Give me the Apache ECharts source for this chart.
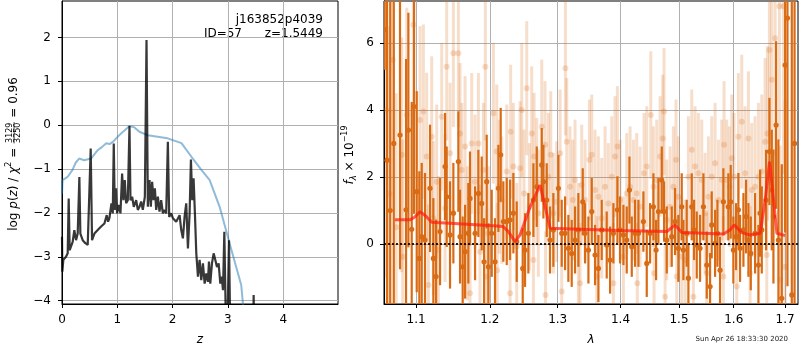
<!DOCTYPE html>
<html>
<head>
<meta charset="utf-8">
<script src="https://cdn.jsdelivr.net/npm/echarts@6/dist/echarts.min.js"></script>
<style>
html, body { margin: 0; padding: 0; background: #fff; }
#chart { width: 800px; height: 350px; }
</style>
</head>
<body>
<div id="chart"></div>
<script>
// ---- left panel: redshift probability ----
var pzZ = [0.000,0.006,0.024,0.072,0.103,0.121,0.139,0.193,0.223,0.254,
    0.284,0.314,0.332,0.374,0.423,0.465,0.495,0.519,0.543,0.586,
    0.646,0.707,0.767,0.809,0.833,0.857,0.894,0.918,0.936,0.954,
    0.978,0.996,1.027,1.057,1.087,1.111,1.135,1.159,1.190,1.220,
    1.238,1.268,1.298,1.341,1.371,1.401,1.431,1.461,1.498,1.528,
    1.552,1.582,1.606,1.630,1.655,1.679,1.703,1.733,1.763,1.793,
    1.824,1.854,1.884,1.914,1.938,1.975,2.005,2.035,2.065,2.095,
    2.126,2.156,2.186,2.216,2.246,2.277,2.307,2.331,2.355,2.379,
    2.403,2.428,2.458,2.488,2.518,2.548,2.579,2.609,2.639,2.657,
    2.681,2.711,2.742,2.772,2.802,2.832,2.862,2.886,2.911,2.935,
    2.959,2.989,3.019,3.043,3.092,3.200,3.440,3.465,3.490,3.700,
    4.000,5.000];
var pzLog = [-2.54,-3.34,-3.07,-3.00,-2.92,-1.67,-2.85,-2.66,-2.39,-2.62,
    -2.47,-1.18,-2.47,-2.62,-2.69,-2.73,-2.69,-0.53,-2.62,-2.47,
    -2.39,-2.31,-2.24,-2.05,-2.20,-2.12,-1.78,-2.01,-0.42,-1.93,
    -1.44,-2.01,-1.82,-2.01,-1.10,-1.71,-1.25,-1.78,-1.71,-0.02,
    -1.71,-1.63,-1.86,-1.71,-1.93,-1.86,-1.74,-1.93,-1.63,1.94,
    -1.86,-1.25,-1.86,-1.29,-1.71,-1.44,-1.93,-1.63,-1.97,-1.71,
    -2.01,-1.93,-2.01,-0.38,-2.09,-2.01,-2.12,-2.09,-2.20,-2.20,
    -2.05,-2.39,-2.58,-2.09,-1.78,-2.81,-2.01,-0.78,-1.71,-1.21,
    -2.01,-2.92,-3.45,-3.07,-3.53,-3.15,-3.61,-3.38,-3.57,-3.11,
    -3.61,-3.15,-2.92,-3.07,-3.23,-3.15,-3.61,-3.45,-3.76,-2.43,
    -4.21,-4.74,-2.62,-4.74,-5.50,-6.50,-6.80,-3.87,-6.90,-8.00,
    -9.00,-10.0];
var chiZ = [0,0.01,0.10,0.19,0.25,0.31,0.40,0.525,0.645,0.72,0.80,0.86,0.92,1.01,1.12,
    1.22,1.31,1.40,1.55,1.91,2.16,2.34,2.52,2.67,2.85,3.03,3.24,3.27,3.30];
var chiLog = [-1.56,-1.25,-1.18,-1.02,-0.85,-0.76,-0.80,-0.76,-0.57,-0.50,-0.41,-0.43,-0.38,-0.26,-0.13,
    -0.02,-0.05,-0.15,-0.23,-0.30,-0.41,-0.72,-1.02,-1.25,-1.86,-2.69,-3.64,-4.05,-4.60];
var zTicks = [0, 1, 2, 3, 4];
var pzTicks = [-4, -3, -2, -1, 0, 1, 2];

// ---- right panel: spectrum [wavelength, flux, error] ----
var darkSpec = [
    [1.0600,6.40,1.2],[1.0630,2.50,12],[1.0670,1.00,12],[1.0715,3.00,10],
    [1.0794,3.25,4.0],[1.0871,1.02,4.5],[1.0901,3.40,3.5],[1.0944,0.44,3.8],[1.0974,4.10,3.2],
    [1.1009,1.56,3.0],[1.1043,-0.43,2.6],[1.1074,0.22,2.2],[1.1117,0.12,2.0],[1.1183,1.66,1.9],
    [1.1227,-0.43,1.8],[1.1263,-0.97,1.7],[1.1316,0.37,1.6],[1.1383,2.31,1.6],[1.1405,1.41,1.5],
    [1.1450,0.27,1.6],[1.1495,0.92,1.5],[1.1563,2.46,1.5],[1.1586,0.22,1.4],[1.1622,-0.68,1.5],
    [1.1655,-0.23,1.4],[1.1700,0.32,1.5],[1.1723,1.36,1.4],[1.1793,0.32,1.4],[1.1839,1.51,1.3],
    [1.1886,1.21,1.4],[1.1919,-0.53,1.3],[1.1956,1.86,1.4],[1.1980,-0.68,1.3],[1.2027,0.32,1.3],
    [1.2074,-0.53,1.3],[1.2122,1.66,1.3],[1.2155,2.66,1.4],[1.2193,0.67,1.2],[1.2242,0.67,1.3],
    [1.2290,0.72,1.2],[1.2338,0.92,1.2],[1.2387,0.07,1.2],[1.2475,-0.73,1.2],[1.2509,-0.18,1.1],
    [1.2558,0.32,1.2],[1.2633,1.31,1.1],[1.2683,1.71,1.2],[1.2758,2.36,1.1],[1.2783,1.86,1.1],
    [1.2833,1.31,1.1],[1.2883,0.12,1.0],[1.2934,0.42,1.1],[1.3011,1.66,1.0],[1.3062,0.32,1.0],
    [1.3114,0.32,1.1],[1.3165,-0.13,1.0],[1.3217,-0.28,1.0],[1.3269,0.12,1.0],[1.3321,0.42,1.1],
    [1.3390,1.26,1.0],[1.3427,0.32,0.9],[1.3480,-0.18,1.0],[1.3533,0.97,1.0],[1.3586,-0.33,0.9],
    [1.3640,-0.73,1.0],[1.3693,0.42,0.9],[1.3774,-0.03,1.0],[1.3829,-0.48,1.0],[1.3883,0.32,0.9],
    [1.3949,1.02,1.0],[1.3993,0.42,1.0],[1.4048,0.27,0.9],[1.4103,0.12,1.0],[1.4148,1.61,1.0],
    [1.4187,-0.08,0.9],[1.4242,0.32,1.0],[1.4299,0.32,1.0],[1.4383,0.67,0.9],[1.4440,-0.58,1.0],
    [1.4497,0.32,0.9],[1.4554,1.11,1.0],[1.4600,-0.18,0.9],[1.4640,0.97,1.0],[1.4698,1.91,1.0],
    [1.4738,0.97,0.9],[1.4785,0.12,1.0],[1.4872,0.22,0.9],[1.4930,0.67,1.0],[1.4989,-0.13,1.0],
    [1.5048,1.11,1.0],[1.5078,-0.18,0.9],[1.5137,0.32,1.0],[1.5167,-1.02,1.0],[1.5227,1.11,1.0],
    [1.5269,0.42,0.9],[1.5317,-0.03,1.0],[1.5377,-0.13,1.0],[1.5438,1.11,1.0],[1.5499,-0.63,1.0],
    [1.5560,-1.27,1.0],[1.5590,0.57,1.0],[1.5652,0.02,1.0],[1.5695,0.32,1.0],[1.5744,-0.78,1.0],
    [1.5806,1.26,1.0],[1.5899,1.11,1.0],[1.5943,1.26,1.1],[1.5993,-0.18,1.0],[1.6044,0.22,1.0],
    [1.6088,1.02,1.1],[1.6120,-0.13,1.0],[1.6184,0.42,1.1],[1.6235,0.82,1.1],[1.6280,0.12,1.1],
    [1.6325,-0.28,1.1],[1.6408,0.32,1.2],[1.6473,-0.63,1.2],[1.6505,0.92,1.3],[1.6538,0.42,1.3],
    [1.6623,1.31,1.5],[1.6688,2.76,1.6],[1.6734,1.61,1.8],[1.6767,0.82,2.0],[1.6820,3.55,2.5],
    [1.6866,0.12,3.0],[1.6933,-1.62,4.0],[1.7000,5.34,5.0],[1.7047,6.74,8.0],[1.7134,-1.52,9.0],
    [1.7190,3.00,12]
];
var lightSpec = [
    [1.0620,4.00,5.0],[1.0660,1.50,5.0],[1.0700,5.50,4.5],[1.0745,0.50,4.0],[1.0816,2.66,3.5],
    [1.0828,-0.38,3.5],[1.0880,3.85,3.2],[1.0965,6.54,3.0],[1.1052,3.70,2.8],[1.1096,3.95,2.6],
    [1.1139,2.61,2.5],[1.1161,-1.22,2.4],[1.1205,3.20,2.4],[1.1227,0.77,2.3],[1.1271,1.86,2.3],
    [1.1294,-0.18,2.2],[1.1338,3.80,2.2],[1.1383,1.07,2.2],[1.1405,5.29,2.2],[1.1450,2.71,2.1],
    [1.1495,5.69,2.2],[1.1563,5.69,2.2],[1.1586,3.30,2.1],[1.1609,2.21,2.0],[1.1655,2.91,2.1],
    [1.1687,0.32,2.0],[1.1723,-1.47,2.0],[1.1746,3.00,2.1],[1.1793,1.86,2.0],[1.1839,3.00,2.1],
    [1.1862,-0.23,2.0],[1.1909,2.21,2.0],[1.1937,5.29,2.2],[1.1956,-0.97,2.0],[1.1980,0.32,2.0],
    [1.2051,3.90,2.1],[1.2098,2.76,2.0],[1.2105,-0.78,2.0],[1.2136,1.71,2.0],[1.2170,1.31,1.9],
    [1.2242,2.16,2.0],[1.2290,-1.47,1.9],[1.2299,3.35,2.0],[1.2338,2.31,1.9],[1.2387,-0.08,1.9],
    [1.2436,2.26,2.0],[1.2460,4.00,2.0],[1.2494,1.51,1.9],[1.2534,4.65,2.0],[1.2573,1.11,1.9],
    [1.2608,3.30,2.0],[1.2633,-0.48,1.9],[1.2643,2.61,1.9],[1.2683,1.86,1.9],[1.2707,0.92,1.9],
    [1.2758,3.50,2.0],[1.2808,2.96,1.9],[1.2815,-1.52,1.9],[1.2858,2.01,1.9],[1.2894,2.66,1.9],
    [1.2934,0.92,1.8],[1.2985,1.26,1.8],[1.3037,2.71,1.9],[1.3062,-1.42,1.8],[1.3119,5.24,2.0],
    [1.3140,3.05,1.9],[1.3191,1.71,1.8],[1.3233,1.31,1.8],[1.3269,1.91,1.8],[1.3321,0.02,1.8],
    [1.3348,-1.17,1.8],[1.3374,1.76,1.8],[1.3427,1.31,1.8],[1.3496,2.51,1.8],[1.3533,2.66,1.8],
    [1.3586,1.61,1.8],[1.3613,-0.97,1.8],[1.3640,1.41,1.8],[1.3693,0.77,1.8],[1.3747,1.71,1.8],
    [1.3801,1.21,1.8],[1.3856,2.01,1.8],[1.3883,-1.17,1.8],[1.3910,2.61,1.8],[1.3949,2.91,1.8],
    [1.3993,1.31,1.8],[1.4048,-0.38,1.8],[1.4103,1.51,1.8],[1.4159,1.71,1.8],[1.4215,1.31,1.8],
    [1.4270,1.51,1.8],[1.4280,-1.17,1.8],[1.4327,1.11,1.8],[1.4394,2.11,1.8],[1.4440,2.31,1.8],
    [1.4509,3.85,1.9],[1.4554,1.71,1.8],[1.4565,-0.87,1.8],[1.4611,1.91,1.8],[1.4669,2.61,1.8],
    [1.4715,3.15,1.9],[1.4738,3.95,1.9],[1.4756,-1.57,1.8],[1.4785,0.72,1.8],[1.4843,1.11,1.8],
    [1.4901,1.71,1.8],[1.4948,2.51,1.8],[1.4960,-0.97,1.8],[1.4989,1.41,1.8],[1.5048,-0.38,1.8],
    [1.5108,-0.48,1.8],[1.5167,2.01,1.8],[1.5227,2.81,1.8],[1.5257,-1.57,1.8],[1.5287,2.31,1.8],
    [1.5347,2.11,1.8],[1.5408,1.91,1.8],[1.5469,0.92,1.8],[1.5499,-0.87,1.8],[1.5529,1.41,1.8],
    [1.5590,2.01,1.8],[1.5652,2.41,1.8],[1.5714,1.31,1.8],[1.5775,1.91,1.8],[1.5806,-0.97,1.8],
    [1.5819,2.96,1.9],[1.5868,1.91,1.8],[1.5918,1.71,1.8],[1.5962,2.56,1.9],[1.6006,2.01,1.9],
    [1.6057,-1.27,1.9],[1.6088,3.20,1.9],[1.6152,3.65,2.0],[1.6216,2.11,2.0],[1.6280,3.15,2.0],
    [1.6312,-0.87,2.0],[1.6344,1.61,2.0],[1.6408,1.71,2.1],[1.6473,2.01,2.2],[1.6538,2.16,2.3],
    [1.6603,3.05,2.5],[1.6636,-0.33,2.5],[1.6649,3.30,2.6],[1.6688,5.79,2.8],[1.6734,4.90,3.0],
    [1.6800,6.14,3.5],[1.6886,7.09,4.0],[1.6899,-1.07,4.0],[1.6966,7.09,5.0],[1.7000,-0.68,5.0]
];
var modelWave = [1.073,1.092,1.098,1.105,1.112,1.1206,1.163,1.2099,1.219,1.2266,1.2363,1.2436,1.2584,
    1.2733,1.281,1.2884,1.3349,1.400,1.4786,1.4931,1.505,1.5808,1.593,1.6008,1.6154,1.6313,
    1.6507,1.6604,1.669,1.6769,1.6836,1.700];
var modelFlux = [0.72,0.72,0.80,0.96,0.85,0.65,0.60,0.54,0.52,0.37,0.07,0.27,1.11,
    1.76,1.10,0.47,0.44,0.40,0.37,0.57,0.34,0.30,0.42,0.57,0.34,0.27,
    0.32,1.31,2.46,1.31,0.32,0.25];
var waveTicks = [1.1, 1.2, 1.3, 1.4, 1.5, 1.6, 1.7];
var fluxTicks = [0, 2, 4, 6];

var FONT = '"DejaVu Sans", sans-serif';
var ORANGE = '#d96b14';

function minus(v) { return v < 0 ? '\u2212' + Math.abs(v) : String(v); }
function zip(a, b) { return a.map(function (v, i) { return [v, b[i]]; }); }
// log wavelength axis: x is stored as ln(lambda)
function logSpec(list) { return list.map(function (p) { return [Math.log(p[0]), p[1], p[2]]; }); }

function errBars(color, barWidth, radius, opacity) {
    return function (params, api) {
        var x = api.value(0), y = api.value(1), e = api.value(2);
        var lo = api.coord([x, y - e]), hi = api.coord([x, y + e]), c = api.coord([x, y]);
        return {
            type: 'group',
            children: [
                { type: 'line', shape: { x1: lo[0], y1: lo[1], x2: hi[0], y2: hi[1] },
                  style: { stroke: color, lineWidth: barWidth, opacity: opacity } },
                { type: 'circle', shape: { cx: c[0], cy: c[1], r: radius },
                  style: { fill: color, opacity: opacity } }
            ]
        };
    };
}

var measureCtx = document.createElement('canvas').getContext('2d');
function textWidth(str, font) { measureCtx.font = font; return measureCtx.measureText(str).width; }

// rotated math-style label built from pieces
function mathLabel(parts, cx, cy) {
    var total = 0;
    parts.forEach(function (p) {
        p.w = p.num ? Math.max(textWidth(p.num, p.font), textWidth(p.den, p.font)) + 2 : textWidth(p.text, p.font);
        total += p.w;
    });
    var x = -total / 2, kids = [];
    parts.forEach(function (p) {
        if (p.num) {
            kids.push({ type: 'text', style: { text: p.num, x: x + p.w / 2, y: -3.6, font: p.font, fill: '#000',
                align: 'center', textAlign: 'center', verticalAlign: 'middle', textVerticalAlign: 'middle' } });
            kids.push({ type: 'text', style: { text: p.den, x: x + p.w / 2, y: 4.6, font: p.font, fill: '#000',
                align: 'center', textAlign: 'center', verticalAlign: 'middle', textVerticalAlign: 'middle' } });
            kids.push({ type: 'line', shape: { x1: x + 0.5, y1: 0.6, x2: x + p.w - 0.5, y2: 0.6 },
                style: { stroke: '#000', lineWidth: 0.7 } });
        } else {
            kids.push({ type: 'text', style: { text: p.text, x: x, y: p.dy || 0, font: p.font, fill: '#000',
                align: 'left', textAlign: 'left', verticalAlign: 'middle', textVerticalAlign: 'middle' } });
        }
        x += p.w;
    });
    return { type: 'group', x: cx, y: cy, rotation: Math.PI / 2, children: kids };
}

var fN = '12px ' + FONT, fI = 'italic 12px ' + FONT, fS = '8px ' + FONT, fSI = 'italic 8.5px ' + FONT;

var leftLabel = mathLabel([
    { text: 'log ', font: fN }, { text: 'p', font: fI }, { text: '(', font: fN }, { text: 'z', font: fI },
    { text: ') / ', font: fN }, { text: '\u03c7', font: fI }, { text: '2', font: fS, dy: -5 },
    { text: ' = ', font: fN }, { num: '3129', den: '3250', font: fS }, { text: ' = 0.96', font: fN }
], 13.5, 154);
var rightLabel = mathLabel([
    { text: 'f', font: fI }, { text: '\u03bb', font: fSI, dy: 3.5 }, { text: ' \u00d7 10', font: fN },
    { text: '\u221219', font: fS, dy: -5 }
], 350, 155);

var axisCommon = {
    axisLine: { show: true, onZero: false, lineStyle: { color: '#000', width: 1 } },
    axisTick: { show: true, length: 4, lineStyle: { color: '#000', width: 1 } },
    axisLabel: { color: '#000', fontSize: 12, fontFamily: FONT, margin: 10 },
    splitLine: { show: true, lineStyle: { color: '#b0b0b0', width: 1 } }
};
function axis(extra) {
    var a = JSON.parse(JSON.stringify(axisCommon));
    for (var k in extra) {
        if (typeof extra[k] === 'object' && a[k]) { for (var j in extra[k]) a[k][j] = extra[k][j]; }
        else a[k] = extra[k];
    }
    return a;
}

var chart = echarts.init(document.getElementById('chart'), null, { renderer: 'canvas' });
chart.setOption({
    animation: false,
    backgroundColor: '#fff',
    grid: [
        { left: 62, top: 1, width: 276, height: 303, show: true, borderColor: '#000', borderWidth: 1 },
        { left: 384, top: 1, width: 414, height: 303, show: true, borderColor: '#000', borderWidth: 1 }
    ],
    xAxis: [
        axis({ type: 'value', gridIndex: 0, min: 0, max: 4.99,
            axisTick: { customValues: zTicks }, axisLabel: { customValues: zTicks, formatter: minus } }),
        axis({ type: 'value', gridIndex: 1, min: Math.log(1.0592), max: Math.log(1.726),
            axisTick: { customValues: waveTicks.map(Math.log) },
            axisLabel: { customValues: waveTicks.map(Math.log),
                formatter: function (v) { return Math.exp(v).toFixed(1); } } })
    ],
    yAxis: [
        axis({ type: 'value', gridIndex: 0, min: -4.075, max: 2.83,
            axisTick: { customValues: pzTicks }, axisLabel: { customValues: pzTicks, formatter: minus, margin: 11 } }),
        axis({ type: 'value', gridIndex: 1, min: -1.79, max: 7.25,
            axisTick: { customValues: fluxTicks }, axisLabel: { customValues: fluxTicks, formatter: minus, margin: 10 } })
    ],
    graphic: [
        leftLabel, rightLabel,
        { type: 'text', style: { text: 'j163852p4039', x: 323, y: 20, font: fN, fill: '#000',
            align: 'right', textAlign: 'right', verticalAlign: 'middle', textVerticalAlign: 'middle' } },
        { type: 'text', style: { text: 'ID=57', x: 242, y: 34, font: fN, fill: '#000',
            align: 'right', textAlign: 'right', verticalAlign: 'middle', textVerticalAlign: 'middle' } },
        { type: 'text', style: { text: 'z=1.5449', x: 323, y: 34, font: fN, fill: '#000',
            align: 'right', textAlign: 'right', verticalAlign: 'middle', textVerticalAlign: 'middle' } },
        { type: 'text', style: { text: 'z', x: 200, y: 340, font: fI, fill: '#000',
            align: 'center', textAlign: 'center', verticalAlign: 'middle', textVerticalAlign: 'middle' } },
        { type: 'text', style: { text: '\u03bb', x: 591, y: 340, font: fI, fill: '#000',
            align: 'center', textAlign: 'center', verticalAlign: 'middle', textVerticalAlign: 'middle' } },
        { type: 'text', style: { text: 'Sun Apr 26 18:33:30 2020', x: 788, y: 339, font: '7px ' + FONT, fill: '#222',
            align: 'right', textAlign: 'right', verticalAlign: 'middle', textVerticalAlign: 'middle' } }
    ],
    series: [
        { type: 'line', xAxisIndex: 0, yAxisIndex: 0, data: zip(chiZ, chiLog), symbol: 'none', z: 2,
          lineStyle: { color: '#1f77b4', width: 2, opacity: 0.5 } },
        { type: 'line', xAxisIndex: 0, yAxisIndex: 0, data: zip(pzZ, pzLog), symbol: 'none', z: 3,
          lineStyle: { color: '#000', width: 2.2, opacity: 0.78 } },
        { type: 'custom', xAxisIndex: 1, yAxisIndex: 1, clip: true, z: 2, data: logSpec(lightSpec),
          renderItem: errBars(ORANGE, 3, 3, 0.22) },
        { type: 'custom', xAxisIndex: 1, yAxisIndex: 1, clip: true, z: 3, data: logSpec(darkSpec),
          renderItem: errBars(ORANGE, 2.2, 2.6, 1) },
        { type: 'line', xAxisIndex: 1, yAxisIndex: 1, symbol: 'none', z: 4,
          data: zip(modelWave.map(Math.log), modelFlux),
          lineStyle: { color: '#ff1a0a', width: 3, opacity: 0.7 },
          markLine: { silent: true, symbol: 'none', label: { show: false }, z: 5,
            lineStyle: { color: '#000', type: [2, 2], width: 2, opacity: 0.85 },
            data: [{ yAxis: 0 }] } }
    ]
});
</script>
</body>
</html>
